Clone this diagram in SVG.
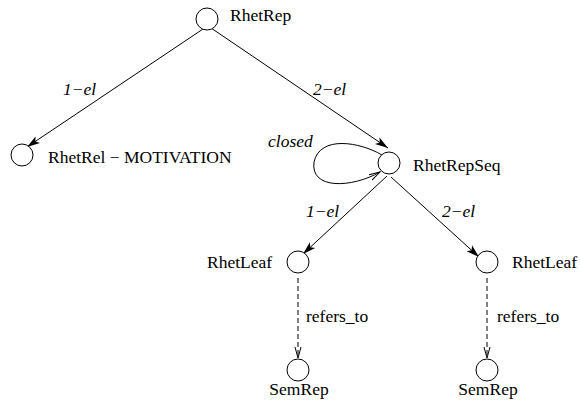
<svg xmlns="http://www.w3.org/2000/svg" width="580" height="406" viewBox="0 0 580 406">
<style>
.n{fill:#fff;stroke:#000;stroke-width:1}
text{font-family:"Times New Roman","Liberation Serif","DejaVu Serif",serif;font-size:17.5px;fill:#000}
.i{font-style:italic}
.e{fill:none;stroke:#000;stroke-width:1}
.d{stroke-dasharray:5,3}
</style>
<defs>
<marker id="fa" markerUnits="userSpaceOnUse" markerWidth="14" markerHeight="10" refX="13" refY="5" orient="auto" viewBox="0 0 14 10">
<path d="M0,1 L13,5 L0,9 L3,5 Z" fill="#000"/>
</marker>
<marker id="oa" markerUnits="userSpaceOnUse" markerWidth="12" markerHeight="10" refX="11" refY="5" orient="auto" viewBox="0 0 12 10">
<path d="M0,2 L11,5 L0,8" fill="none" stroke="#000" stroke-width="1"/>
</marker>
</defs>
<rect width="580" height="406" fill="#fff"/>
<g id="connectors">
<line class="e" x1="203" y1="29" x2="27" y2="147" marker-end="url(#fa)"/>
<line class="e" x1="211" y1="28" x2="388" y2="148" marker-end="url(#fa)"/>
<path class="e" d="M382,155 C360,142 320,135 314,162 C310,190 352,188 380,172" marker-end="url(#oa)"/>
<line class="e" x1="387" y1="176" x2="303" y2="254" marker-end="url(#fa)"/>
<line class="e" x1="391" y1="177" x2="479" y2="257" marker-end="url(#fa)"/>
<line class="e d" x1="298" y1="278" x2="298" y2="358" marker-end="url(#oa)"/>
<line class="e d" x1="487" y1="278" x2="487" y2="358" marker-end="url(#oa)"/>
<text class="i" x="63" y="95">1−el</text>
<text class="i" x="313" y="95">2−el</text>
<text class="i" x="268" y="147">closed</text>
<text class="i" x="306" y="217">1−el</text>
<text class="i" x="442" y="217">2−el</text>
<text x="306" y="322">refers_to</text>
<text x="497" y="322">refers_to</text>
</g>
<g id="RhetRep">
<circle class="n" cx="207" cy="19" r="11"/>
<text x="230" y="21">RhetRep</text>
</g>
<g id="RhetRel">
<circle class="n" cx="22" cy="155" r="11"/>
<text x="48" y="163">RhetRel − MOTIVATION</text>
</g>
<g id="RhetRepSeq">
<circle class="n" cx="389" cy="163" r="11"/>
<text x="413" y="171">RhetRepSeq</text>
</g>
<g id="RhetLeaf1">
<circle class="n" cx="298" cy="262" r="11"/>
<text x="207" y="268">RhetLeaf</text>
</g>
<g id="RhetLeaf2">
<circle class="n" cx="487" cy="262" r="11"/>
<text x="512" y="268">RhetLeaf</text>
</g>
<g id="SemRep1">
<circle class="n" cx="298" cy="370" r="11"/>
<text x="299" y="395" text-anchor="middle">SemRep</text>
</g>
<g id="SemRep2">
<circle class="n" cx="487" cy="370" r="11"/>
<text x="488" y="395" text-anchor="middle">SemRep</text>
</g>
</svg>
